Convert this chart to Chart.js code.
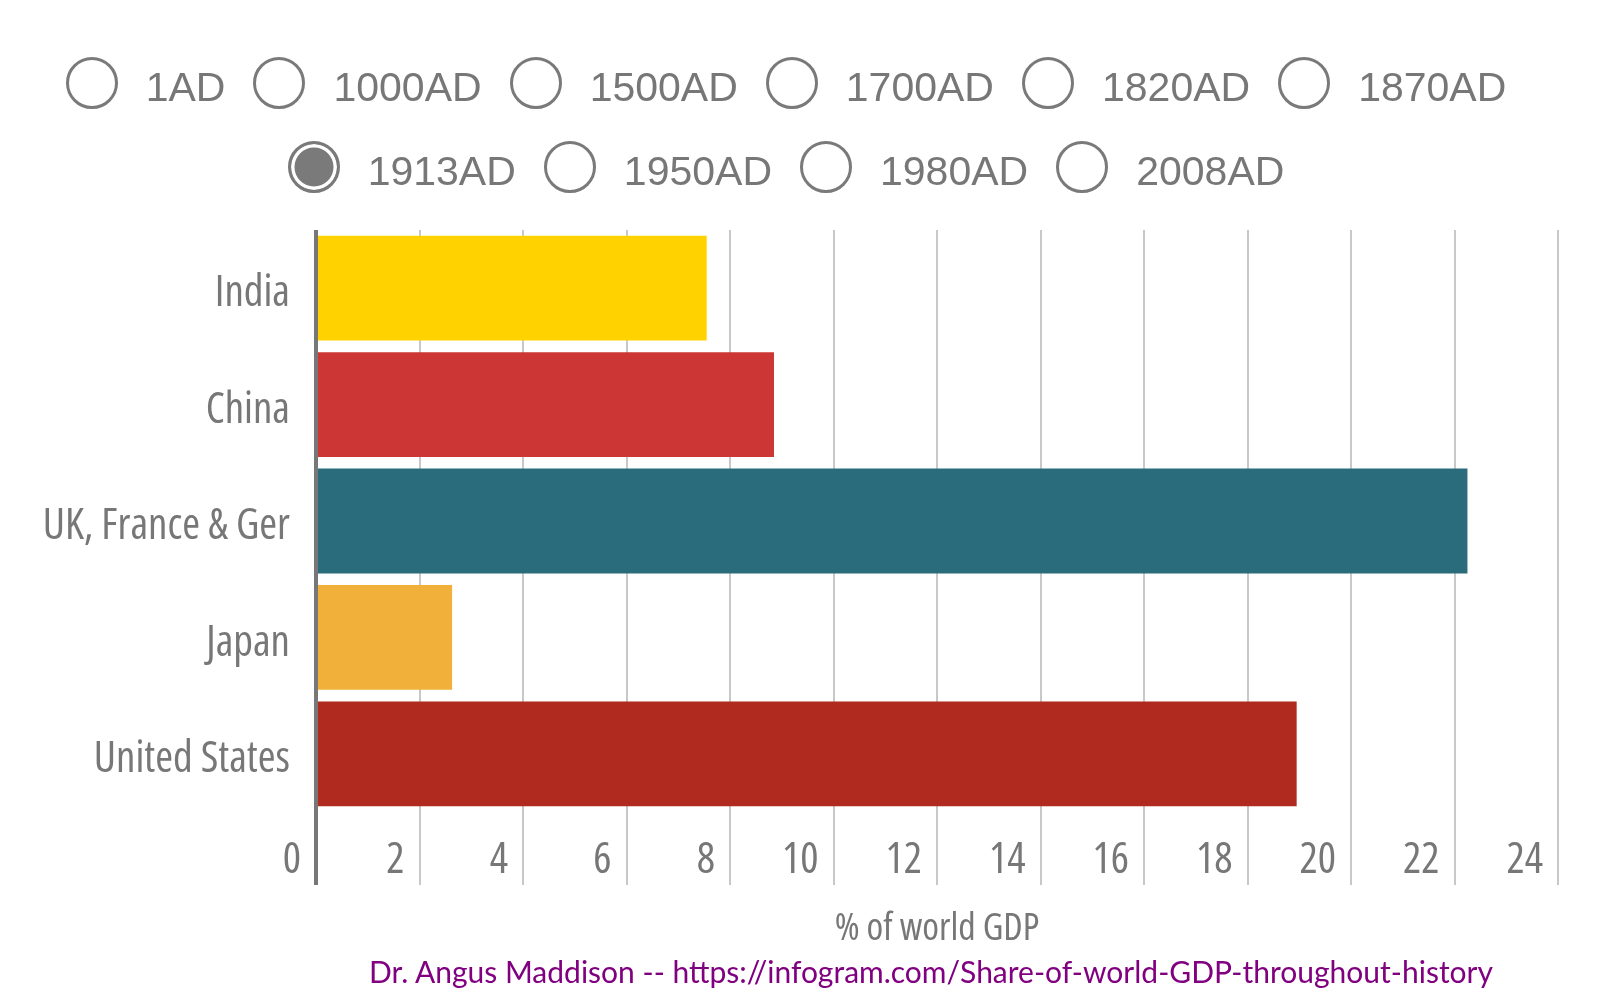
<!DOCTYPE html>
<html lang="en">
<head>
<meta charset="UTF-8" />
<title>Share of world GDP throughout history</title>
<style>
  html, body { margin: 0; padding: 0; background: #fff; }
  body { width: 1606px; height: 992px; position: relative; overflow: hidden; font-family: "Liberation Sans", Arial, sans-serif; }
  .chart-box { position: absolute; left: 0; top: 0; width: 1606px; height: 992px; }
  .eras { position: absolute; top: 57px; left: 0; width: 1572px; z-index: 2; }
  .era-row { display: flex; justify-content: center; height: 52px; margin-bottom: 32px; }
  .era { display: flex; align-items: center; margin: 0 14px; color: #777; font-size: 41px; }
  .era span.txt { position: relative; top: 4px; }
  .dot { box-sizing: border-box; width: 52px; height: 52px; border: 3px solid #7a7a7a; border-radius: 50%; margin-right: 28px; }
  .dot.on { background: #7a7a7a; box-shadow: inset 0 0 0 3.5px #fff; }
  .source { position: absolute; top: 953px; left: 931px; transform: translateX(-50%); white-space: nowrap; color: #800080; font-family: Lato, sans-serif; font-size: 30px; z-index: 2; }
</style>
</head>
<body>
  <div class="eras" id="eras"></div>
  <div class="chart-box">
    <canvas id="gdpChart" width="1606" height="992"></canvas>
  </div>
  <div class="source">Dr. Angus Maddison -- https://infogram.com/Share-of-world-GDP-throughout-history</div>

  <script src="https://cdn.jsdelivr.net/npm/chart.js"></script>
  <script>
    const years = ["1AD", "1000AD", "1500AD", "1700AD", "1820AD", "1870AD", "1913AD", "1950AD", "1980AD", "2008AD"];
    const selectedYear = "1913AD";
    const countries = ["India", "China", "UK, France & Ger", "Japan", "United States"];
    const gdpShare1913 = [7.55, 8.85, 22.25, 2.63, 18.95];
    const barColors = ["#ffd200", "#cc3634", "#2a6c7b", "#f1b03a", "#b02a20"];
    const xMax = 24;
    const xStep = 2;

    // year selector (two rows, like the original)
    const erasEl = document.getElementById("eras");
    [years.slice(0, 6), years.slice(6)].forEach(function (rowYears) {
      const row = document.createElement("div");
      row.className = "era-row";
      rowYears.forEach(function (y) {
        const item = document.createElement("div");
        item.className = "era";
        item.innerHTML = '<span class="dot' + (y === selectedYear ? " on" : "") + '"></span><span class="txt">' + y + "</span>";
        row.appendChild(item);
      });
      erasEl.appendChild(row);
    });

    // light condensed face of Open Sans; "condensed" goes into the font shorthand
    const axisFont = (size) => ({ family: "'Open Sans'", weight: "condensed", size: size });

    const ctx = document.getElementById("gdpChart").getContext("2d");
    const gdpChart = new Chart(ctx, {
      type: "bar",
      data: {
        labels: countries,
        datasets: [
          {
            data: gdpShare1913,
            backgroundColor: barColors,
            borderWidth: 0,
            barPercentage: 0.9,
            categoryPercentage: 1.0,
          },
        ],
      },
      options: {
        indexAxis: "y",
        responsive: false,
        animation: false,
        layout: { padding: { top: 230, right: 48, bottom: 40, left: 0 } },
        scales: {
          x: {
            min: 0,
            max: xMax,
            ticks: {
              stepSize: xStep,
              align: "end",
              labelOffset: -15,
              padding: -50,
              color: "#777",
              font: axisFont(43),
            },
            grid: {
              color: (c) => (c.tick && c.tick.value === 0 ? "#777" : "#c8c8c8"),
              lineWidth: (c) => (c.tick && c.tick.value === 0 ? 4 : 2),
              tickLength: 73,
              drawTicks: true,
            },
            border: { display: false },
            title: {
              display: true,
              text: "% of world GDP",
              color: "#777",
              font: axisFont(38),
              padding: 0,
            },
            afterFit: (s) => {
              s.height = 140;
            },
          },
          y: {
            grid: { display: false, drawTicks: false },
            border: { display: false },
            ticks: {
              color: "#777",
              padding: 26,
              labelOffset: 6,
              font: axisFont(43),
            },
            afterFit: (s) => {
              s.width = 316;
            },
          },
        },
        plugins: {
          legend: { display: false },
          tooltip: { enabled: false },
        },
      },
    });
  </script>
</body>
</html>
